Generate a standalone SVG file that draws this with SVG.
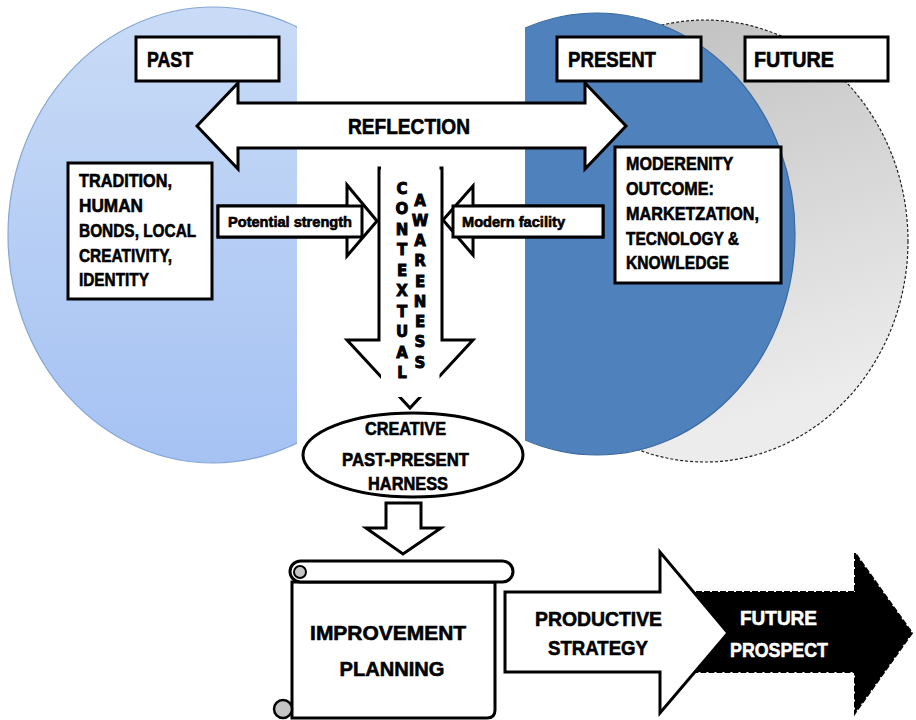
<svg xmlns="http://www.w3.org/2000/svg" width="916" height="720" viewBox="0 0 916 720">
<defs>
<linearGradient id="gPast" x1="0" y1="0" x2="0" y2="1">
<stop offset="0" stop-color="#c9dbf6"/>
<stop offset="1" stop-color="#a5c2f3"/>
</linearGradient>
<linearGradient id="gFuture" x1="0" y1="0" x2="0.3" y2="1">
<stop offset="0" stop-color="#bdbdbd"/>
<stop offset="1" stop-color="#ececec"/>
</linearGradient>
<clipPath id="cPast"><rect x="0" y="0" width="297" height="720"/></clipPath>
<clipPath id="cPresent"><rect x="525" y="0" width="391" height="720"/></clipPath>
<clipPath id="cFuture"><rect x="560" y="0" width="356" height="720"/></clipPath>
<style>
.t{font-family:"Liberation Sans",Arial,sans-serif;font-weight:bold;fill:#000;stroke:#000;stroke-width:0.6}
.w{fill:#fff;stroke:#fff}
.box{fill:#fff;stroke:#000;stroke-width:3}
.v{font-family:"DejaVu Sans",sans-serif;font-weight:bold;font-size:15px;text-anchor:middle;fill:#000;stroke:#000;stroke-width:0.9}
</style>
</defs>

<g id="backgrounds">
<ellipse cx="705" cy="241" rx="203" ry="221" fill="url(#gFuture)" stroke="#222" stroke-width="1.2" stroke-dasharray="3 2" clip-path="url(#cFuture)"/>
<ellipse cx="597" cy="234" rx="198" ry="221" fill="#4f81bd" stroke="#3d6a9e" stroke-width="1.2" clip-path="url(#cPresent)"/>
<ellipse cx="213" cy="235" rx="205" ry="228" fill="url(#gPast)" stroke="#86a6d4" stroke-width="1.2" clip-path="url(#cPast)"/>
</g>

<g id="connectors">
<polygon id="reflection-arrow" class="box" points="197,126 238,83 238,103 585,103 585,83 626,126 585,169 585,148 238,148 238,169"/>
<polygon id="contextual-arrow" class="box" points="379,168 442,168 442,340 473,340 410,408 347,340 379,340"/>
<rect x="381" y="158" width="58.5" height="239" fill="#fff"/>
<polygon id="potential-arrow" class="box" points="218,206 347,206 347,185 377,221 347,256 347,237 218,237"/>
<polygon id="modern-arrow" class="box" points="603,206 473,206 473,186 443,220 473,255 473,237 603,237"/>
<polygon id="down-arrow" class="box" points="386,503 421,503 421,528 441,528 403,554 366,528 386,528"/>
</g>

<g id="past">
<rect class="box" x="136" y="37" width="143" height="44"/>
<text class="t" x="147" y="67" font-size="22" textLength="46" lengthAdjust="spacingAndGlyphs">PAST</text>
</g>
<g id="present">
<rect class="box" x="557" y="37" width="144" height="44"/>
<text class="t" x="568" y="67" font-size="22" textLength="88" lengthAdjust="spacingAndGlyphs">PRESENT</text>
</g>
<g id="future">
<rect class="box" x="745" y="37" width="143" height="44"/>
<text class="t" x="754" y="67" font-size="22" textLength="80" lengthAdjust="spacingAndGlyphs">FUTURE</text>
</g>

<g id="reflection">
<text class="t" x="348" y="134" font-size="22" textLength="122" lengthAdjust="spacingAndGlyphs">REFLECTION</text>
</g>

<g id="tradition">
<rect class="box" x="68" y="163" width="144" height="136"/>
<text class="t" font-size="19">
<tspan x="79" y="187" textLength="93" lengthAdjust="spacingAndGlyphs">TRADITION,</tspan>
<tspan x="79" y="212" textLength="64" lengthAdjust="spacingAndGlyphs">HUMAN</tspan>
<tspan x="79" y="237" textLength="117" lengthAdjust="spacingAndGlyphs">BONDS, LOCAL</tspan>
<tspan x="79" y="262" textLength="93" lengthAdjust="spacingAndGlyphs">CREATIVITY,</tspan>
<tspan x="79" y="286" textLength="70" lengthAdjust="spacingAndGlyphs">IDENTITY</tspan>
</text>
</g>

<g id="modernity">
<rect class="box" x="615" y="147" width="166" height="136"/>
<text class="t" font-size="19">
<tspan x="626" y="170" textLength="107" lengthAdjust="spacingAndGlyphs">MODERENITY</tspan>
<tspan x="626" y="195" textLength="88" lengthAdjust="spacingAndGlyphs">OUTCOME:</tspan>
<tspan x="626" y="220" textLength="133" lengthAdjust="spacingAndGlyphs">MARKETZATION,</tspan>
<tspan x="626" y="245" textLength="113" lengthAdjust="spacingAndGlyphs">TECNOLOGY &amp;</tspan>
<tspan x="626" y="269" textLength="103" lengthAdjust="spacingAndGlyphs">KNOWLEDGE</tspan>
</text>
</g>

<g id="potential">
<rect class="box" x="218" y="206" width="144" height="31"/>
<text class="t" x="228" y="227" font-size="14" textLength="124" lengthAdjust="spacingAndGlyphs">Potential strength</text>
</g>
<g id="modern">
<rect class="box" x="453" y="206" width="150" height="31"/>
<text class="t" x="462" y="227" font-size="14" textLength="103" lengthAdjust="spacingAndGlyphs">Modern facility</text>
</g>

<g id="contextual">
<text class="v" x="402" y="193.5">C</text>
<text class="v" x="402" y="214">O</text>
<text class="v" x="402" y="234.5">N</text>
<text class="v" x="402" y="255">T</text>
<text class="v" x="402" y="275.5">E</text>
<text class="v" x="402" y="296">X</text>
<text class="v" x="402" y="316.5">T</text>
<text class="v" x="402" y="337">U</text>
<text class="v" x="402" y="357.5">A</text>
<text class="v" x="402" y="378">L</text>
</g>
<g id="awareness">
<text class="v" x="420" y="205.5">A</text>
<text class="v" x="420" y="225.75">W</text>
<text class="v" x="420" y="246">A</text>
<text class="v" x="420" y="266.25">R</text>
<text class="v" x="420" y="286.5">E</text>
<text class="v" x="420" y="306.75">N</text>
<text class="v" x="420" y="327">E</text>
<text class="v" x="420" y="347.25">S</text>
<text class="v" x="420" y="367.5">S</text>
</g>

<g id="harness">
<ellipse class="box" cx="413" cy="455" rx="110" ry="42"/>
<text class="t" font-size="18" text-anchor="middle">
<tspan x="408" y="435" textLength="81" lengthAdjust="spacingAndGlyphs">CREATIVE</tspan>
<tspan x="408" y="466" textLength="127" lengthAdjust="spacingAndGlyphs">PAST-PRESENT</tspan>
<tspan x="408" y="490" textLength="80" lengthAdjust="spacingAndGlyphs">HARNESS</tspan>
</text>
</g>

<g id="planning">
<path class="box" d="M292,582 L292,718 L487,718 Q495,718 495,710 L495,582 Z"/>
<rect class="box" x="290" y="561" width="223" height="21" rx="10.5"/>
<circle cx="300" cy="572" r="6" fill="#c4c4c4" stroke="#000" stroke-width="2"/>
<circle cx="283" cy="709" r="9" fill="#c4c4c4" stroke="#000" stroke-width="2.5"/>
<text class="t" font-size="21" text-anchor="middle">
<tspan x="391" y="640" textLength="156" lengthAdjust="spacingAndGlyphs">IMPROVEMENT</tspan>
<tspan x="392" y="676" textLength="105" lengthAdjust="spacingAndGlyphs">PLANNING</tspan>
</text>
</g>

<g id="future-prospect">
<polygon points="680,592 855,592 855,553 912,633 855,713 855,672 680,672" fill="#000" stroke="#000" stroke-width="2" stroke-dasharray="6 2"/>
<text class="t w" font-size="21">
<tspan x="740" y="625" textLength="77" lengthAdjust="spacingAndGlyphs">FUTURE</tspan>
<tspan x="730" y="657" textLength="98" lengthAdjust="spacingAndGlyphs">PROSPECT</tspan>
</text>
</g>

<g id="productive">
<polygon class="box" points="505,592 660,592 660,552 728,633 660,713 660,672 505,672"/>
<text class="t" font-size="21">
<tspan x="535" y="626" textLength="127" lengthAdjust="spacingAndGlyphs">PRODUCTIVE</tspan>
<tspan x="548" y="655" textLength="100" lengthAdjust="spacingAndGlyphs">STRATEGY</tspan>
</text>
</g>
</svg>
